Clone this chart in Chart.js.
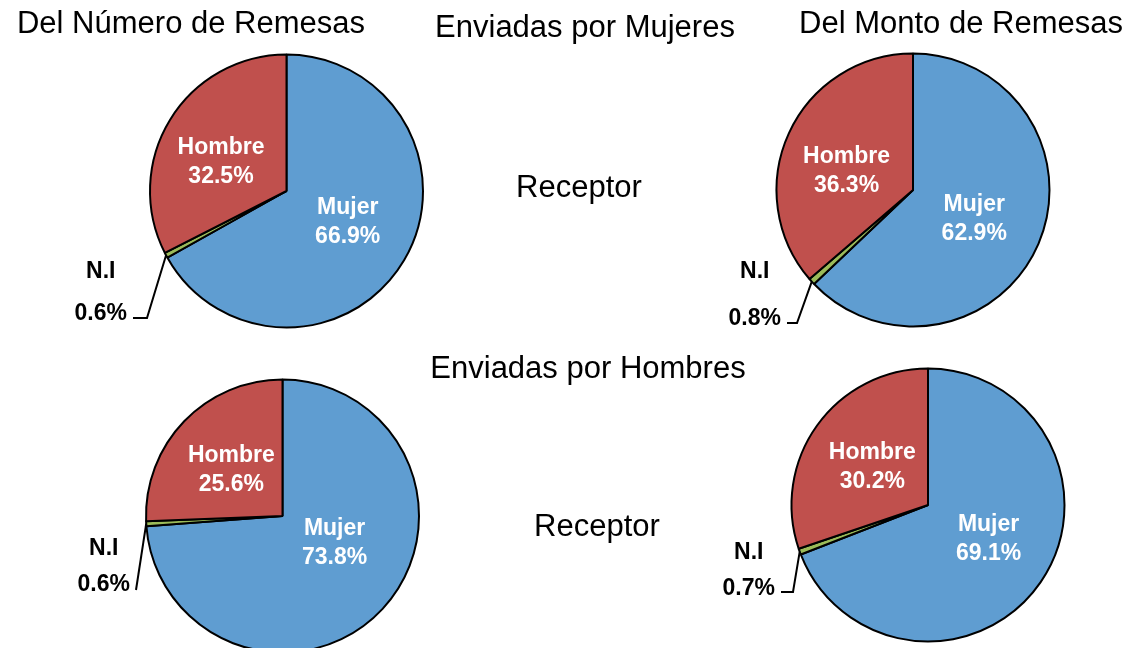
<!DOCTYPE html>
<html lang="es">
<head>
    <meta charset="UTF-8">
    <title>Remesas por sexo del receptor</title>
    <script src="https://cdn.jsdelivr.net/npm/chart.js"></script>
    <style>
        body {
            margin: 0;
            padding: 0;
            width: 1132px;
            height: 648px;
            overflow: hidden;
            background: #fff;
            position: relative;
            font-family: "Liberation Sans", Arial, sans-serif;
        }
        canvas {
            position: absolute;
            left: 0;
            top: 0;
        }
        .title {
            position: absolute;
            width: 600px;
            text-align: center;
            font-size: 31px;
            line-height: 31px;
            color: #000;
            white-space: nowrap;
        }
    </style>
</head>
<body>
    <canvas id="pie1" width="1132" height="670"></canvas>
    <canvas id="pie2" width="1132" height="670"></canvas>
    <canvas id="pie3" width="1132" height="670"></canvas>
    <canvas id="pie4" width="1132" height="670"></canvas>

    <script>
        // data
        const categories = ['Mujer', 'N.I', 'Hombre'];
        const colors = ['#5f9dd1', '#9bbb59', '#c0504d'];

        const mujeresNumero = [66.9, 0.6, 32.5];
        const mujeresMonto = [62.9, 0.8, 36.3];
        const hombresNumero = [73.8, 0.6, 25.6];
        const hombresMonto = [69.1, 0.7, 30.2];

        const titleTexts = ['Del Número de Remesas', 'Enviadas por Mujeres', 'Del Monto de Remesas',
                            'Receptor', 'Enviadas por Hombres', 'Receptor'];

        // layout
        const W = 1132, H = 670, SIZE = 275;
        const titlePos = [[191, 33], [585, 37], [961, 33], [579, 197], [588, 378], [597, 536]];

        const pies = [
            { id: 'pie1', data: mujeresNumero, cx: 286.5, cy: 191, ni: { dx: -139.5, dy: 127, tail: 14, base: 2, gap: 42 },
              nudge: { Mujer: [0, -5], Hombre: [-5, 8] } },
            { id: 'pie2', data: mujeresMonto, cx: 913, cy: 190, ni: { dx: -116, dy: 133, tail: 10, base: 2, gap: 47 },
              nudge: { Mujer: [-4, 1], Hombre: [-2, 11] } },
            { id: 'pie3', data: hombresNumero, cx: 282.5, cy: 516, ni: { dx: -146.5, dy: 74, tail: 0, base: 1, gap: 36 },
              nudge: { Mujer: [0, -21], Hombre: [0, 3] } },
            { id: 'pie4', data: hombresMonto, cx: 928, cy: 505, ni: { dx: -135, dy: 87, tail: 12, base: 3, gap: 36 },
              nudge: { Mujer: [2, -6], Hombre: [2, 4] } }
        ];

        titleTexts.forEach((t, i) => {
            const d = document.createElement('div');
            d.className = 'title';
            d.textContent = t;
            d.style.left = (titlePos[i][0] - 300) + 'px';
            d.style.top = (titlePos[i][1] - 26) + 'px';
            document.body.appendChild(d);
        });

        const pieLabels = {
            id: 'pieLabels',
            afterDatasetsDraw(chart, args, opts) {
                const ctx = chart.ctx;
                const meta = chart.getDatasetMeta(0);
                const vals = chart.data.datasets[0].data;
                ctx.save();
                ctx.font = 'bold 23px "Liberation Sans", Arial, sans-serif';
                meta.data.forEach((arc, i) => {
                    const p = arc.getProps(['x', 'y', 'startAngle', 'endAngle', 'outerRadius'], true);
                    const mid = (p.startAngle + p.endAngle) / 2;
                    const txt = vals[i].toFixed(1) + '%';
                    const name = chart.data.labels[i];
                    if (name === 'N.I') {
                        const ni = opts.ni;
                        const sx = p.x + Math.cos(mid) * p.outerRadius;
                        const sy = p.y + Math.sin(mid) * p.outerRadius;
                        const ex = p.x + ni.dx, ey = p.y + ni.dy;
                        ctx.strokeStyle = '#000';
                        ctx.lineWidth = 2;
                        ctx.beginPath();
                        ctx.moveTo(sx, sy);
                        ctx.lineTo(ex, ey);
                        ctx.lineTo(ex - ni.tail, ey);
                        ctx.stroke();
                        ctx.fillStyle = '#000';
                        ctx.textBaseline = 'alphabetic';
                        ctx.textAlign = 'right';
                        const right = ex - ni.tail - 6;
                        ctx.fillText(txt, right, ey + ni.base);
                        const w = ctx.measureText(txt).width;
                        ctx.textAlign = 'center';
                        ctx.fillText(name, right - w / 2, ey + ni.base - ni.gap);
                    } else {
                        const k = 0.52 * p.outerRadius;
                        const n = opts.nudge[name] || [0, 0];
                        const lx = p.x + Math.cos(mid) * k + n[0];
                        const ly = p.y + Math.sin(mid) * k + n[1];
                        ctx.fillStyle = '#fff';
                        ctx.textAlign = 'center';
                        ctx.textBaseline = 'middle';
                        ctx.fillText(name, lx, ly - 14.5);
                        ctx.fillText(txt, lx, ly + 14.5);
                    }
                });
                ctx.restore();
            }
        };

        pies.forEach(pc => {
            new Chart(document.getElementById(pc.id), {
                type: 'pie',
                data: {
                    labels: categories,
                    datasets: [{
                        data: pc.data,
                        backgroundColor: colors,
                        borderColor: '#000',
                        borderWidth: 2
                    }]
                },
                options: {
                    responsive: false,
                    animation: false,
                    events: [],
                    layout: {
                        padding: {
                            left: pc.cx - SIZE / 2,
                            top: pc.cy - SIZE / 2,
                            right: W - pc.cx - SIZE / 2,
                            bottom: H - pc.cy - SIZE / 2
                        }
                    },
                    plugins: {
                        legend: { display: false },
                        tooltip: { enabled: false },
                        pieLabels: { ni: pc.ni, nudge: pc.nudge }
                    }
                },
                plugins: [pieLabels]
            });
        });
    </script>
</body>
</html>
